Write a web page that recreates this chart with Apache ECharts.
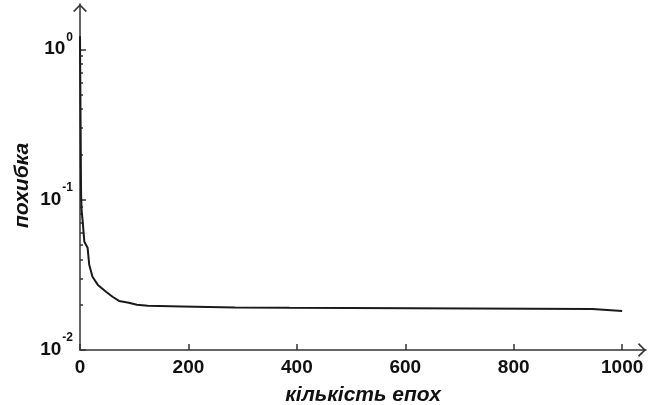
<!DOCTYPE html>
<html>
<head>
<meta charset="utf-8">
<script src="https://cdn.jsdelivr.net/npm/echarts@6/dist/echarts.min.js"></script>
<style>
  html, body { margin: 0; padding: 0; background: #fff; }
  #lossChart { width: 648px; height: 405px; }
</style>
</head>
<body>
<div id="lossChart"></div>
<script>
const epochs = [0, 1, 2, 3, 5, 8, 14, 17, 23, 33, 48, 60, 72, 90, 105, 125, 126, 188, 189, 286, 386, 388, 945, 947, 1000];
const loss = [1.22, 0.35, 0.108, 0.085, 0.0714, 0.0525, 0.0479, 0.0369, 0.0307, 0.0271, 0.0244, 0.0226, 0.0212, 0.0206, 0.0200, 0.0197, 0.0196, 0.0195, 0.0193, 0.0192, 0.0191, 0.01876, 0.01876, 0.0182, 0.0182];
const xTicks = [0, 200, 400, 600, 800, 1000];
const yTicks = [0.01, 0.1, 1];
const yMinorTicks = [0.02, 0.03, 0.04, 0.05, 0.06, 0.07, 0.08, 0.09, 0.2, 0.3, 0.4, 0.5, 0.6, 0.7, 0.8, 0.9];

const axisColor = "#333";
const textColor = "#111";
const fontFamily = "Liberation Sans, Arial, sans-serif";
// open chevron arrow head
const arrowPath = "path://M7,0 L14,7 L12.6,8 L7,2.2 L1.4,8 L0,7 Z";
const gridBox = { left: 80, right: 2, top: 4, bottom: 55, outerBoundsMode: "none" };

let myChart = echarts.init(document.getElementById("lossChart"));
myChart.setOption({
  animation: false,
  backgroundColor: "#fff",
  // second grid only carries the minor ticks of the log axis
  grid: [gridBox, gridBox],
  xAxis: [
    {
      type: "value",
      min: 0,
      max: 1044,
      name: "кількість епох",
      nameLocation: "middle",
      nameGap: 35,
      nameTextStyle: {
        color: textColor,
        fontFamily: fontFamily,
        fontWeight: "bold",
        fontStyle: "italic",
        fontSize: 21,
      },
      axisLine: {
        lineStyle: { color: axisColor, width: 1.5 },
        symbol: ["none", arrowPath],
        symbolSize: [14, 8],
        symbolOffset: [0, -4],
      },
      axisTick: {
        inside: true,
        length: 6,
        customValues: xTicks,
        lineStyle: { color: axisColor, width: 1.5 },
      },
      axisLabel: {
        customValues: xTicks,
        formatter: (v) => String(v),
        color: textColor,
        fontFamily: fontFamily,
        fontWeight: "bold",
        fontSize: 19,
        margin: 8,
      },
      splitLine: { show: false },
    },
    {
      gridIndex: 1,
      type: "value",
      min: 0,
      max: 1044,
      show: false,
    },
  ],
  yAxis: [
    {
      type: "log",
      min: 0.01,
      max: 2,
      axisLine: {
        lineStyle: { color: axisColor, width: 1.5 },
        symbol: ["none", arrowPath],
        symbolSize: [14, 8],
        symbolOffset: [0, -4],
      },
      axisTick: {
        inside: true,
        length: 6,
        customValues: yTicks,
        lineStyle: { color: axisColor, width: 1.5 },
      },
      axisLabel: {
        customValues: yTicks,
        margin: 7,
        formatter: (v) => "{b|10}{e|" + Math.round(Math.log10(v)) + "}",
        rich: {
          b: {
            color: textColor,
            fontFamily: fontFamily,
            fontWeight: "bold",
            fontSize: 19,
            lineHeight: 36,
            verticalAlign: "middle",
          },
          e: {
            color: textColor,
            fontFamily: fontFamily,
            fontWeight: "bold",
            fontSize: 12,
            lineHeight: 36,
            verticalAlign: "top",
            padding: [0, 0, 0, 1],
          },
        },
      },
      splitLine: { show: false },
    },
    {
      gridIndex: 1,
      type: "log",
      min: 0.01,
      max: 2,
      position: "left",
      axisLine: { show: true, lineStyle: { opacity: 0 } },
      axisTick: {
        show: true,
        inside: true,
        length: 3,
        customValues: yMinorTicks,
        lineStyle: { color: axisColor, width: 1.5 },
      },
      axisLabel: { show: false },
      splitLine: { show: false },
    },
  ],
  graphic: [
    {
      type: "text",
      x: 12,
      y: 228,
      rotation: Math.PI / 2,
      style: {
        text: "похибка",
        fill: textColor,
        font: "italic bold 21px " + fontFamily,
      },
    },
  ],
  series: [
    {
      type: "line",
      data: epochs.map((e, i) => [e, loss[i]]),
      showSymbol: false,
      lineStyle: { color: "#1a1a1a", width: 2 },
    },
  ],
});
</script>
</body>
</html>
